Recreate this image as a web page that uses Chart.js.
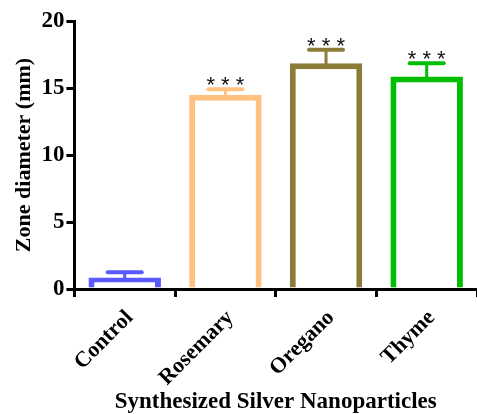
<!DOCTYPE html>
<html>
<head>
<meta charset="utf-8">
<script src="https://cdn.jsdelivr.net/npm/chart.js@4/dist/chart.umd.min.js"></script>
<style>
  body { margin: 0; background: #fff; }
  canvas { display: block; }
</style>
</head>
<body>
<canvas id="myChart" width="477" height="414"></canvas>
<script>
// values (mm)
const categories = ["Control", "Rosemary", "Oregano", "Thyme"];
const zoneMeans = [0.85, 14.5, 16.85, 15.85];
const zoneErrors = [0.4, 0.4, 1.0, 1.0];
const significance = ["", "***", "***", "***"];
const yTicks = [0, 5, 10, 15, 20];

const barColors = ["#5a5aff", "#ffc080", "#8c7c3a", "#00bf00"];
const serif = "'Liberation Serif', 'Times New Roman', serif";

// draws the upper error bar and the stars above each bar
const errorBarPlugin = {
  id: "errorBars",
  afterDatasetsDraw(chart) {
    const ctx = chart.ctx;
    const meta = chart.getDatasetMeta(0);
    const yScale = chart.scales.y;
    meta.data.forEach(function(bar, i) {
      const top = yScale.getPixelForValue(zoneMeans[i] + zoneErrors[i]);
      ctx.save();
      ctx.strokeStyle = barColors[i];
      ctx.lineCap = "round";
      ctx.lineWidth = 3;
      ctx.beginPath();
      ctx.moveTo(bar.x, bar.y + 3);
      ctx.lineTo(bar.x, top);
      ctx.stroke();
      ctx.lineWidth = 4;
      ctx.beginPath();
      ctx.moveTo(bar.x - 17, top);
      ctx.lineTo(bar.x + 17, top);
      ctx.stroke();
      if (significance[i]) {
        ctx.fillStyle = "#111";
        ctx.font = "22px 'Liberation Sans', Arial, sans-serif";
        ctx.textAlign = "center";
        ctx.textBaseline = "alphabetic";
        ctx.fillText(significance[i].split("").join(" "), bar.x, top + 3);
      }
      ctx.restore();
    });
  }
};

const ctx = document.getElementById("myChart");
const myChart = new Chart(ctx, {
  type: "bar",
  data: {
    labels: categories,
    datasets: [{
      data: zoneMeans,
      backgroundColor: "#ffffff",
      borderColor: barColors,
      borderWidth: 6,
      borderSkipped: "start",
      barPercentage: 0.72,
      categoryPercentage: 1.0
    }]
  },
  options: {
    responsive: false,
    animation: false,
    layout: { padding: { top: 21, right: 0, left: 11, bottom: 0 } },
    plugins: {
      legend: { display: false },
      tooltip: { enabled: false }
    },
    scales: {
      x: {
        afterFit(scale) {
          scale.height = 125;
        },
        border: { color: "#000", width: 3 },
        grid: { drawOnChartArea: false, color: "#000", lineWidth: 3, tickLength: 8 },
        ticks: {
          color: "#000",
          maxRotation: 45,
          minRotation: 45,
          padding: 8,
          labelOffset: 5,
          font: { family: serif, size: 22, weight: "bold" }
        },
        title: {
          display: true,
          text: "Synthesized Silver Nanoparticles",
          color: "#000",
          padding: { top: 0, bottom: -2 },
          font: { family: serif, size: 23, weight: "bold" }
        }
      },
      y: {
        min: 0,
        max: 20,
        afterBuildTicks(axis) {
          axis.ticks = yTicks.map(function(v) { return { value: v }; });
        },
        border: { color: "#000", width: 3 },
        grid: { drawOnChartArea: false, color: "#000", lineWidth: 3, tickLength: 8 },
        ticks: {
          color: "#000",
          padding: 2,
          font: { family: serif, size: 23, weight: "bold" }
        },
        title: {
          display: true,
          text: "Zone diameter (mm)",
          color: "#000",
          padding: { top: 0, bottom: 2 },
          font: { family: serif, size: 22, weight: "bold" }
        }
      }
    }
  },
  plugins: [errorBarPlugin]
});
</script>
</body>
</html>
